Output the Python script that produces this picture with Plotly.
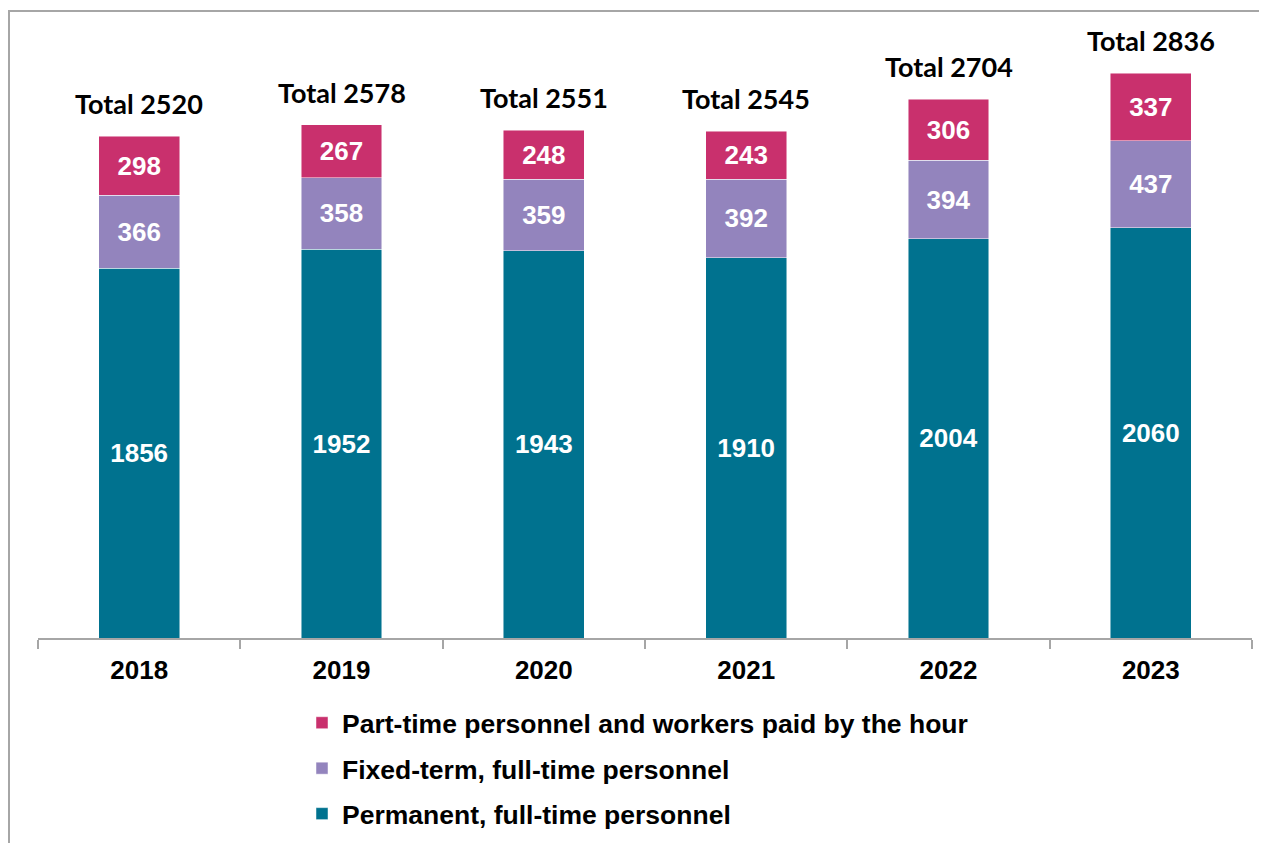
import plotly.graph_objects as go

years = ["2018", "2019", "2020", "2021", "2022", "2023"]
permanent = [1856, 1952, 1943, 1910, 2004, 2060]
fixed_term = [366, 358, 359, 392, 394, 437]
part_time = [298, 267, 248, 243, 306, 337]
totals = [2520, 2578, 2551, 2545, 2704, 2836]

names = ["Permanent, full-time personnel",
         "Fixed-term, full-time personnel",
         "Part-time personnel and workers paid by the hour"]
colors = ["#00728F", "#9384BD", "#C9306D"]
series = [permanent, fixed_term, part_time]
ranks = [3, 2, 1]

W, H = 1267, 843
OFF = 8  # page body margin
ml, mr, mt, mb = 38 - OFF, 23, 20 - OFF, 213
pw, ph = W - ml - mr, H - mt - mb

fig = go.Figure()
for nm, col, vals, rk in zip(names, colors, series, ranks):
    fig.add_trace(go.Bar(
        x=years, y=vals, name=nm, legendgroup=nm, legendrank=rk,
        width=0.4,
        marker=dict(color=col, line=dict(color="rgba(255,255,255,0.6)", width=0.8)),
        text=[str(v) for v in vals], textposition="inside",
        insidetextanchor="middle",
        textfont=dict(family="Liberation Sans", size=26, color="white", weight="bold"),
        hoverinfo="skip",
    ))

tops = [a + b + c for a, b, c in zip(permanent, fixed_term, part_time)]
for i, (top, tot) in enumerate(zip(tops, totals)):
    fig.add_annotation(x=i, y=top, text=f"Total {tot}", showarrow=False,
                       xref="x", yref="y",
                       yanchor="bottom", yshift=14,
                       font=dict(family="Lato", size=27, color="black", weight="bold"))

def px_x(p):
    return (p - OFF - ml) / pw

def px_y(p):
    return (H - mb - (p - OFF)) / ph

fig.add_shape(type="rect", xref="paper", yref="paper",
              x0=px_x(9), x1=px_x(1290), y0=px_y(870), y1=px_y(11),
              line=dict(color="#A6A6A6", width=2), fillcolor="rgba(0,0,0,0)",
              layer="below")

fig.update_layout(
    width=W, height=H,
    margin=dict(l=ml, r=mr, t=mt, b=mb, autoexpand=False),
    plot_bgcolor="white", paper_bgcolor="white",
    barmode="stack",
    showlegend=True,
    legend=dict(x=px_x(302), y=px_y(699), xanchor="left", yanchor="top",
                traceorder="grouped", tracegroupgap=8,
                font=dict(family="Liberation Sans", size=26.5, color="black", weight="bold"),
                bgcolor="rgba(0,0,0,0)"),
    xaxis=dict(type="category", range=[-0.5, len(years) - 0.5], autorange=False,
               showline=True, linecolor="#A6A6A6", linewidth=1.5,
               ticks="outside", tickson="boundaries", ticklen=9, tickcolor="#A6A6A6",
               tickwidth=1.5, tickangle=0, automargin=False, ticklabelstandoff=8,
               tickfont=dict(family="Liberation Sans", size=26, color="black", weight="bold"),
               showgrid=False),
    yaxis=dict(range=[0, ph / (502 / 2520)], autorange=False, visible=False, showgrid=False),
)

fig.write_html("out.html")
